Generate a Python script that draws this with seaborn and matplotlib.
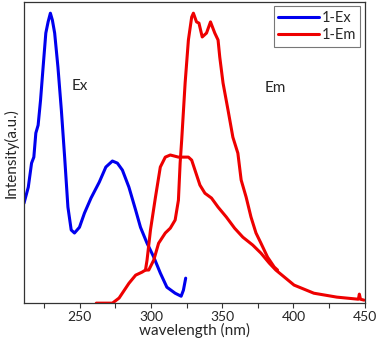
import numpy as np
import pandas as pd
import matplotlib
matplotlib.use("Agg")
import matplotlib.pyplot as plt
import seaborn as sns
from matplotlib.lines import Line2D
from matplotlib.ticker import MultipleLocator

# espectro de excitação (1-Ex)
ex_wl = [211.0, 214.0, 216.3, 217.9, 219.3, 220.9, 222.6, 224.4, 226.3, 227.9,
         229.5, 230.9, 232.5, 234.8, 237.2, 239.5, 241.8, 244.1, 246.4, 249.9,
         253.4, 258.0, 263.8, 268.4, 273.0, 276.5, 280.0, 284.6, 289.3, 292.7,
         297.3, 302.0, 306.6, 311.2, 317.0, 321.2, 322.8, 324.4]
ex_int = [0.332, 0.385, 0.465, 0.485, 0.565, 0.591, 0.674, 0.784, 0.897, 0.934,
          0.963, 0.940, 0.897, 0.784, 0.641, 0.485, 0.319, 0.243, 0.233, 0.252,
          0.299, 0.349, 0.402, 0.452, 0.472, 0.465, 0.442, 0.385, 0.309, 0.252,
          0.199, 0.153, 0.100, 0.053, 0.033, 0.023, 0.043, 0.083]

# espectro de emissão (1-Em), curva larga
em_a_wl = [261.7, 273.0, 277.7, 284.6, 289.3, 293.8, 296.2, 297.3, 299.7, 303.2,
           306.6, 310.1, 313.6, 319.3, 326.3, 328.6, 330.9, 334.4, 337.9, 342.5,
           347.1, 352.9, 358.7, 364.5, 371.4, 377.2, 383.0, 387.6, 400.4, 414.3,
           430.4, 445.5, 446.2, 447.0, 449.5]
em_a_int = [0.000, 0.000, 0.017, 0.066, 0.093, 0.103, 0.110, 0.143, 0.243, 0.352,
            0.452, 0.485, 0.492, 0.485, 0.485, 0.475, 0.442, 0.392, 0.365, 0.349,
            0.319, 0.286, 0.249, 0.219, 0.193, 0.166, 0.133, 0.110, 0.060, 0.033,
            0.020, 0.013, 0.030, 0.013, 0.010]

# espectro de emissão (1-Em), curva com pico estreito
em_b_wl = [296.2, 298.5, 302.0, 305.4, 310.1, 313.6, 317.0, 319.3, 320.5, 321.6,
           324.0, 326.3, 328.6, 329.8, 332.0, 333.7, 336.0, 339.0, 341.8, 344.8,
           347.1, 348.3, 350.6, 354.1, 357.5, 361.0, 363.3, 366.8, 370.2, 373.7,
           377.2, 381.8, 386.5, 388.8]
em_b_int = [0.110, 0.110, 0.143, 0.199, 0.233, 0.249, 0.276, 0.342, 0.465, 0.542,
            0.731, 0.874, 0.950, 0.963, 0.934, 0.930, 0.884, 0.897, 0.934, 0.897,
            0.874, 0.817, 0.731, 0.641, 0.551, 0.498, 0.409, 0.352, 0.286, 0.233,
            0.199, 0.153, 0.120, 0.110]

sns.set_style("white")
plt.rcParams['font.family'] = ['Lato', 'DejaVu Sans']

fig = plt.figure(figsize=(3.78, 3.41), dpi=100)
ax = fig.add_axes([0.0635, 0.111, 0.9015, 0.883])

azul = '#0000ee'
vermelho = '#ee0000'
lw = 2.2

sns.lineplot(x=ex_wl, y=ex_int, color=azul, linewidth=lw, ax=ax, legend=False)
sns.lineplot(x=em_a_wl, y=em_a_int, color=vermelho, linewidth=lw, ax=ax, legend=False)
sns.lineplot(x=em_b_wl, y=em_b_int, color=vermelho, linewidth=lw, ax=ax, legend=False)

ax.set_xlim(211, 450)
ax.set_ylim(0, 1)
ax.set_yticks([])
ax.xaxis.set_major_locator(MultipleLocator(50))
ax.xaxis.set_minor_locator(MultipleLocator(25))
ax.tick_params(axis='x', which='both', direction='out', bottom=True,
               length=3.5, width=0.8, color='#333333', labelsize=10, pad=2)

for s in ax.spines.values():
    s.set_color('#333333')
    s.set_linewidth(0.9)

ax.set_xlabel('wavelength (nm)', fontsize=11, labelpad=0)
ax.set_ylabel('Intensity(a.u.)', fontsize=11, labelpad=4)

ax.text(250, 0.72, 'Ex', fontsize=11, ha='center', va='center')
ax.text(387, 0.715, 'Em', fontsize=11, ha='center', va='center')

handles = [Line2D([], [], color=azul, linewidth=lw, label='1-Ex'),
           Line2D([], [], color=vermelho, linewidth=lw, label='1-Em')]
leg = ax.legend(handles=handles, loc='upper right', fontsize=10.5, frameon=True,
                fancybox=False, edgecolor='#555555', handlelength=2.8,
                handletextpad=0.2, borderaxespad=0.3, borderpad=0.3,
                labelspacing=0.25)
leg.get_frame().set_linewidth(0.8)

fig.savefig('out.png', dpi=100)
